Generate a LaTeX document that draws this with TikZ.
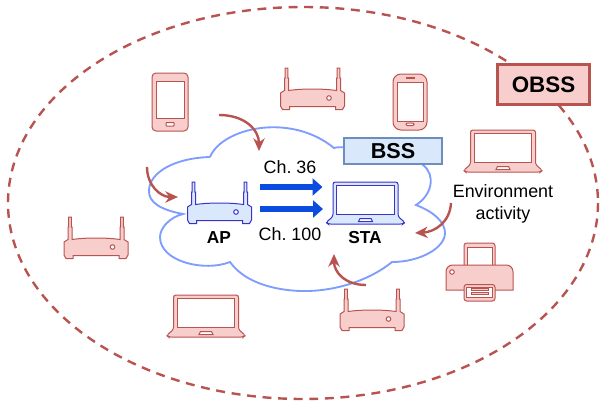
\documentclass[tikz,border=0pt]{standalone}
\usepackage{fontspec}
\setmainfont{Liberation Sans}
\usetikzlibrary{arrows.meta}

\definecolor{obssred}{HTML}{B85450}
\definecolor{obsspink}{HTML}{F8CECC}
\definecolor{bssblue}{HTML}{6C8EBF}
\definecolor{bsspale}{HTML}{DAE8FC}
\definecolor{apline}{HTML}{3B32CC}
\definecolor{cloudline}{HTML}{7F9CFF}
\definecolor{linkblue}{HTML}{0A4BE0}

\begin{document}
\begin{tikzpicture}[
    x=0.75pt, y=-0.75pt,
    redicon/.style={draw=obssred, fill=obsspink, line width=0.75pt},
    blueicon/.style={draw=apline, fill=bsspale, line width=0.75pt},
    label/.style={font=\fontsize{13.4pt}{16.5pt}\selectfont, align=center, inner sep=0pt},
    device/.style={font=\fontsize{13pt}{15pt}\selectfont\bfseries, inner sep=0pt},
    obssbox/.style={draw=obssred, fill=obsspink, line width=2.2pt, minimum width=69pt, minimum height=30pt, inner sep=0pt, font=\fontsize{16.8pt}{20pt}\selectfont\bfseries},
    bssbox/.style={draw=bssblue, fill=bsspale, line width=1.9pt, minimum width=73.5pt, minimum height=19.5pt, inner sep=0pt, font=\fontsize{16.2pt}{20pt}\selectfont\bfseries},
    envarrow/.style={draw=obssred, line width=1.8pt, -{Stealth[length=9.5pt, width=8.5pt, inset=3pt]}},
    linkarrow/.style={draw=linkblue, line width=5pt, -{Triangle[length=7.5pt, width=12.75pt]}},
    pics/router/.style={code={
        \path[pic actions] (-32,38) -- (-32,25) -- (-28,22.5) -- (-28,10) -- (-27.3,10) -- (-27.3,0) -- (-24.7,0) -- (-24.7,10) -- (-24,10) -- (-24,22.5)
            .. controls (-10,20.5) and (10,20.5) .. (24,22.5)
            -- (24,10) -- (24.7,10) -- (24.7,0) -- (27.3,0) -- (27.3,10) -- (28,10) -- (28,22.5) -- (32,25) -- (32,38) -- (30,41.5) -- (23,41.5) -- (23,38.5) -- (-23,38.5) -- (-23,41.5) -- (-30,41.5) -- cycle;
        \path[pic actions, fill=white] (16.5,30) circle[radius=2.3];
    }},
    pics/tablet/.style={code={
        \path[pic actions, rounded corners=3pt] (-18,-29) rectangle (18,29);
        \path[pic actions, fill=white] (-14,-21) rectangle (14,16);
        \path[pic actions, fill=white, rounded corners=0.5pt] (-4,20.5) rectangle (4,24);
    }},
    pics/phone/.style={code={
        \path[pic actions, rounded corners=6pt] (-17,-28) rectangle (17,28);
        \path[pic actions, fill=white] (-13,-20) rectangle (13,19);
        \path[pic actions] (-4,-24.5) rectangle (4,-23.2);
        \path[pic actions, fill=white, rounded corners=0.8pt] (-4,21) rectangle (4,23.5);
    }},
    pics/laptop/.style={code={
        \path[pic actions, rounded corners=1.8pt] (-32.5,10) -- (-32.5,0) -- (32.5,0) -- (32.5,34.5) -- (39.5,40.5) -- (37.5,42) -- (-37.5,42) -- (-39.5,40.5) -- (-32.5,34.5) -- cycle;
        \path[pic actions, fill=white] (-28.7,3.7) rectangle (28.7,32);
        \path[pic actions, fill=white] (-7,39.5) -- (-5.5,36.5) -- (5.5,36.5) -- (7,39.5) -- cycle;
    }},
    pics/printer/.style={code={
        \path[pic actions, rounded corners=2pt] (-15.5,22) -- (-15.5,0) -- (15.5,0) -- (15.5,22);
        \path[pic actions, fill=white] (-12.5,4) rectangle (12.5,22);
        \path[pic actions] (-33.5,47) [rounded corners=5pt] -- (-33.5,22) -- (33.5,22) [sharp corners] -- (33.5,47) -- cycle;
        \path[pic actions, rounded corners=2pt] (-15.5,41.5) rectangle (15.5,58);
        \path[pic actions, fill=white] (-13,44) rectangle (13,54);
        \path[pic actions] (-8.5,45.5) rectangle (8.5,47);
        \path[pic actions] (-8.5,49.5) rectangle (8.5,51);
        \path[pic actions, fill=white] (-27.5,29) circle[radius=2.3];
    }}
]
   \useasboundingbox (0,0) rectangle (600,407);

   % OBSS boundary
   \draw[obssred, line width=1.8pt, dash pattern=on 6.7pt off 5pt] (303,203) ellipse [x radius=295, y radius=196];

   % BSS cloud
   \draw[cloudline, line width=1.4pt]
       (210,157) .. controls (222,128) and (290,112) .. (334,148)
       .. controls (340,145) and (415,150) .. (423,165)
       .. controls (436,175) and (432,195) .. (416,205)
       .. controls (434,212) and (445,222) .. (445,233)
       .. controls (445,248) and (420,262) .. (392,262)
       .. controls (370,280) and (335,292) .. (300,291)
       .. controls (275,290) and (245,283) .. (230,262)
       .. controls (205,272) and (160,262) .. (160,237)
       .. controls (160,228) and (170,217) .. (183,214)
       .. controls (162,210) and (148,203) .. (149,190)
       .. controls (150,172) and (175,158) .. (210,157);

   % Overlapping devices
   \pic[redicon] (tablet1) at (170,102) {tablet};
   \pic[redicon] (router1) at (312.5,68) {router};
   \pic[redicon] (phone1) at (410,102) {phone};
   \pic[redicon] (laptop1) at (503,130) {laptop};
   \pic[redicon] (printer1) at (479.5,243) {printer};
   \pic[redicon] (router2) at (372,289) {router};
   \pic[redicon] (laptop2) at (206,295) {laptop};
   \pic[redicon] (router3) at (96,217) {router};

   % AP and STA
   \pic[blueicon] (ap) at (219.5,182) {router};
   \pic[blueicon] (sta) at (365.5,182) {laptop};
   \node[device] (aplabel) at (219,238) {AP};
   \node[device] (stalabel) at (365,238) {STA};

   % Boxes
   \node[bssbox] (bss) at (393,151) {BSS};
   \node[obssbox] (obss) at (543.5,84.5) {OBSS};

   % Channels
   \node[label] (ch36) at (290,167) {Ch.\ 36};
   \node[label] (ch100) at (290,234) {Ch.\ 100};
   \coordinate (link1s) at (260,187);
   \coordinate (link1e) at (322.5,187);
   \coordinate (link2s) at (260,209);
   \coordinate (link2e) at (323,209);
   \draw[linkarrow] (link1s) -- (link1e);
   \draw[linkarrow] (link2s) -- (link2e);

   \node[label] (env) at (503,204) {Environment\\activity};

   % Interference arrows
   \coordinate (int1s) at (219,115);
   \coordinate (int1e) at (259,151);
   \coordinate (int2s) at (147,167);
   \coordinate (int2e) at (178,197);
   \coordinate (int3s) at (451,203);
   \coordinate (int3e) at (415,233);
   \coordinate (int4s) at (366,285);
   \coordinate (int4e) at (334,254);
   \draw[envarrow] (int1s) .. controls (245,115) and (259,130) .. (int1e);
   \draw[envarrow] (int2s) .. controls (147,185) and (160,197) .. (int2e);
   \draw[envarrow] (int3s) .. controls (450,222) and (435,232) .. (int3e);
   \draw[envarrow] (int4s) .. controls (345,285) and (334,272) .. (int4e);
\end{tikzpicture}
\end{document}
